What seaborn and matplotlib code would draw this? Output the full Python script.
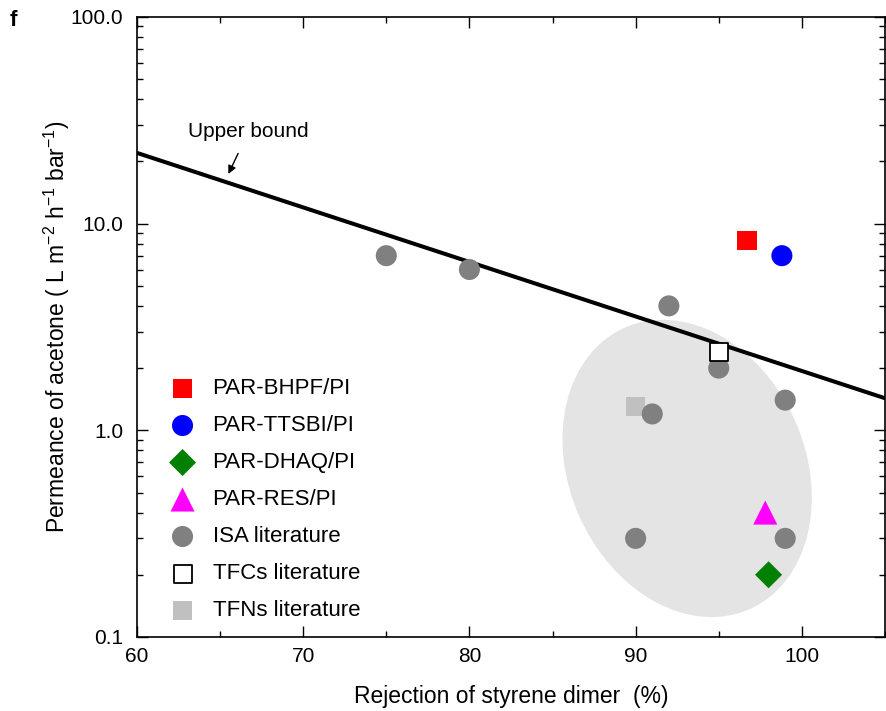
import numpy as np
import pandas as pd
import matplotlib
matplotlib.use("Agg")
import matplotlib.pyplot as plt
import matplotlib.transforms as mtransforms
from matplotlib.patches import Ellipse
import seaborn as sns

# ---- data -------------------------------------------------------------
groups = ["PAR-BHPF/PI", "PAR-TTSBI/PI", "PAR-DHAQ/PI", "PAR-RES/PI",
          "ISA literature", "TFCs literature", "TFNs literature"]

bhpf_x, bhpf_y = [96.7], [8.3]
ttsbi_x, ttsbi_y = [98.8], [7.0]
dhaq_x, dhaq_y = [98.0], [0.2]
res_x, res_y = [97.8], [0.4]
isa_x = [75, 80, 92, 95, 91, 99, 90, 99]
isa_y = [7.0, 6.0, 4.0, 2.0, 1.2, 1.4, 0.3, 0.3]
tfc_x, tfc_y = [95], [2.4]
tfn_x, tfn_y = [90], [1.3]

bound_x = [60, 105]
bound_y = [22.0, 1.43]

# literature region (centre in data units, size in inches)
region_center = (93.1, 0.654)
region_size = (2.36, 3.08)
region_angle = 24

xticks = [60, 70, 80, 90, 100]
yticks = [0.1, 1, 10, 100]
ytick_labels = ["0.1", "1.0", "10.0", "100.0"]

series = {
    "PAR-BHPF/PI": (bhpf_x, bhpf_y),
    "PAR-TTSBI/PI": (ttsbi_x, ttsbi_y),
    "PAR-DHAQ/PI": (dhaq_x, dhaq_y),
    "PAR-RES/PI": (res_x, res_y),
    "ISA literature": (isa_x, isa_y),
    "TFCs literature": (tfc_x, tfc_y),
    "TFNs literature": (tfn_x, tfn_y),
}
df = pd.concat(
    [pd.DataFrame({"group": g, "rejection": xs, "permeance": ys})
     for g, (xs, ys) in series.items()],
    ignore_index=True,
)

styles = {
    "PAR-BHPF/PI": dict(marker="s", s=190, color="#ff0000", edgecolor="none", lw=0, z=6),
    "PAR-TTSBI/PI": dict(marker="o", s=230, color="#0000ff", edgecolor="none", lw=0, z=6),
    "PAR-DHAQ/PI": dict(marker="D", s=190, color="#008000", edgecolor="none", lw=0, z=6),
    "PAR-RES/PI": dict(marker="^", s=300, color="#ff00ff", edgecolor="none", lw=0, z=6),
    "ISA literature": dict(marker="o", s=230, color="#808080", edgecolor="none", lw=0, z=4),
    "TFCs literature": dict(marker="s", s=170, color="white", edgecolor="black", lw=1.3, z=5),
    "TFNs literature": dict(marker="s", s=190, color="#c0c0c0", edgecolor="none", lw=0, z=3),
}

# ---- style ------------------------------------------------------------
sns.set_theme(style="ticks")
plt.rcParams["font.family"] = ["Liberation Sans", "DejaVu Sans"]
plt.rcParams["mathtext.fontset"] = "custom"
plt.rcParams["mathtext.rm"] = "Liberation Sans"
plt.rcParams["mathtext.it"] = "Liberation Sans:italic"
for key in ["text.color", "axes.labelcolor", "xtick.color", "ytick.color",
            "axes.edgecolor"]:
    plt.rcParams[key] = "black"

fig = plt.figure(figsize=(8.86, 7.11), dpi=100)
ax = fig.add_axes([0.1546, 0.1041, 0.8442, 0.872])
ax.set_yscale("log")
ax.set_xlim(60, 105)
ax.set_ylim(0.1, 100)

# shaded literature region
ell_tr = fig.dpi_scale_trans + mtransforms.ScaledTranslation(
    region_center[0], region_center[1], ax.transData)
ax.add_patch(Ellipse((0, 0), region_size[0], region_size[1], angle=region_angle,
                     transform=ell_tr, facecolor="#e4e4e4", edgecolor="none", zorder=1))

# upper bound
sns.lineplot(x=bound_x, y=bound_y, color="black", lw=2.9, ax=ax, zorder=2)

for g in groups:
    st = styles[g]
    sub = df[df["group"] == g]
    sns.scatterplot(data=sub, x="rejection", y="permeance", marker=st["marker"],
                    s=st["s"], color=st["color"], edgecolor=st["edgecolor"],
                    linewidth=st["lw"], ax=ax, zorder=st["z"], label=g, legend=False)

ax.annotate("Upper bound", xy=(65.5, 17.4), xytext=(66.7, 27.8),
            ha="center", va="center", fontsize=15,
            arrowprops=dict(arrowstyle="-|>", color="black", lw=1.0,
                            mutation_scale=12, shrinkA=7, shrinkB=0))

# axes, ticks
ax.set_xticks(xticks)
ax.set_xticks(np.arange(60, 106, 5), minor=True)
ax.set_yticks(yticks)
ax.set_yticklabels(ytick_labels)
ax.tick_params(which="both", direction="in", top=True, right=True,
               width=1.0, color="black")
ax.tick_params(which="major", length=8, labelsize=15, pad=7)
ax.tick_params(which="minor", length=4.5)
ax.tick_params(axis="y", which="major", pad=10)
for sp in ax.spines.values():
    sp.set_linewidth(1.2)
    sp.set_color("black")

ax.set_xlabel("Rejection of styrene dimer  (%)", fontsize=16.5, va="top")
ax.xaxis.set_label_coords(0.5, -0.078)
ax.set_ylabel("Permeance of acetone ( L m$^{-2}$ h$^{-1}$ bar$^{-1}$)",
              fontsize=16.5, va="center")
ax.yaxis.set_label_coords(-0.107, 0.5)

# legend
handles, labels = ax.get_legend_handles_labels()
hmap = dict(zip(labels, handles))
ax.legend([hmap[g] for g in groups], groups, loc="upper left",
          bbox_to_anchor=(0.0, 0.453), frameon=False, fontsize=16,
          handletextpad=0.3, labelspacing=0.72, borderaxespad=0.6,
          handlelength=2.1)

fig.text(0.011, 0.963, "f", fontsize=16, fontweight="bold")

fig.savefig("out.png", dpi=100)
